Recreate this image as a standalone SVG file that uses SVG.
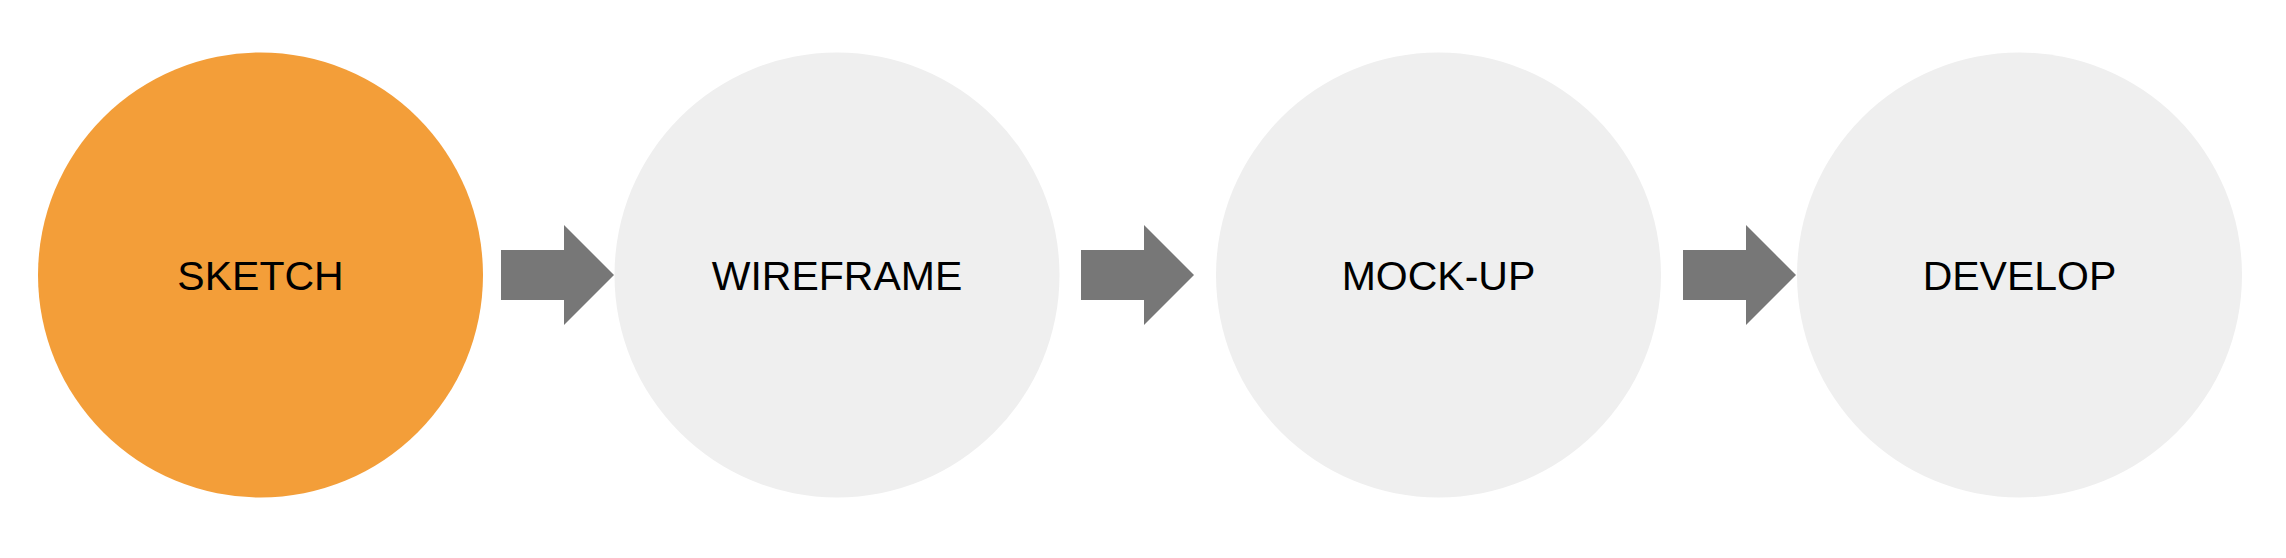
<svg xmlns="http://www.w3.org/2000/svg" width="2286" height="558" viewBox="0 0 2286 558">
<style>
.lbl{font-family:"Liberation Sans",Arial,sans-serif;font-size:41px;fill:#000;text-anchor:middle}
.grey{fill:#efefef}
.arrow{fill:#777777}
</style>
<rect width="2286" height="558" fill="#ffffff"/>
<g id="node-sketch">
<circle cx="260.5" cy="275" r="222.5" fill="#f39e39"/>
<text class="lbl" x="260.5" y="290">SKETCH</text>
</g>
<g id="node-wireframe">
<circle class="grey" cx="837" cy="275" r="222.5"/>
<text class="lbl" x="837" y="290">WIREFRAME</text>
</g>
<g id="node-mockup">
<circle class="grey" cx="1438.5" cy="275" r="222.5"/>
<text class="lbl" x="1438.5" y="290">MOCK-UP</text>
</g>
<g id="node-develop">
<circle class="grey" cx="2019.5" cy="275" r="222.5"/>
<text class="lbl" x="2019.5" y="290">DEVELOP</text>
</g>
<g id="connectors">
<polygon class="arrow" points="501,250 564,250 564,225 614,275 564,325 564,300 501,300"/>
<polygon class="arrow" points="1081,250 1144,250 1144,225 1194,275 1144,325 1144,300 1081,300"/>
<polygon class="arrow" points="1683,250 1746,250 1746,225 1796,275 1746,325 1746,300 1683,300"/>
</g>
</svg>
